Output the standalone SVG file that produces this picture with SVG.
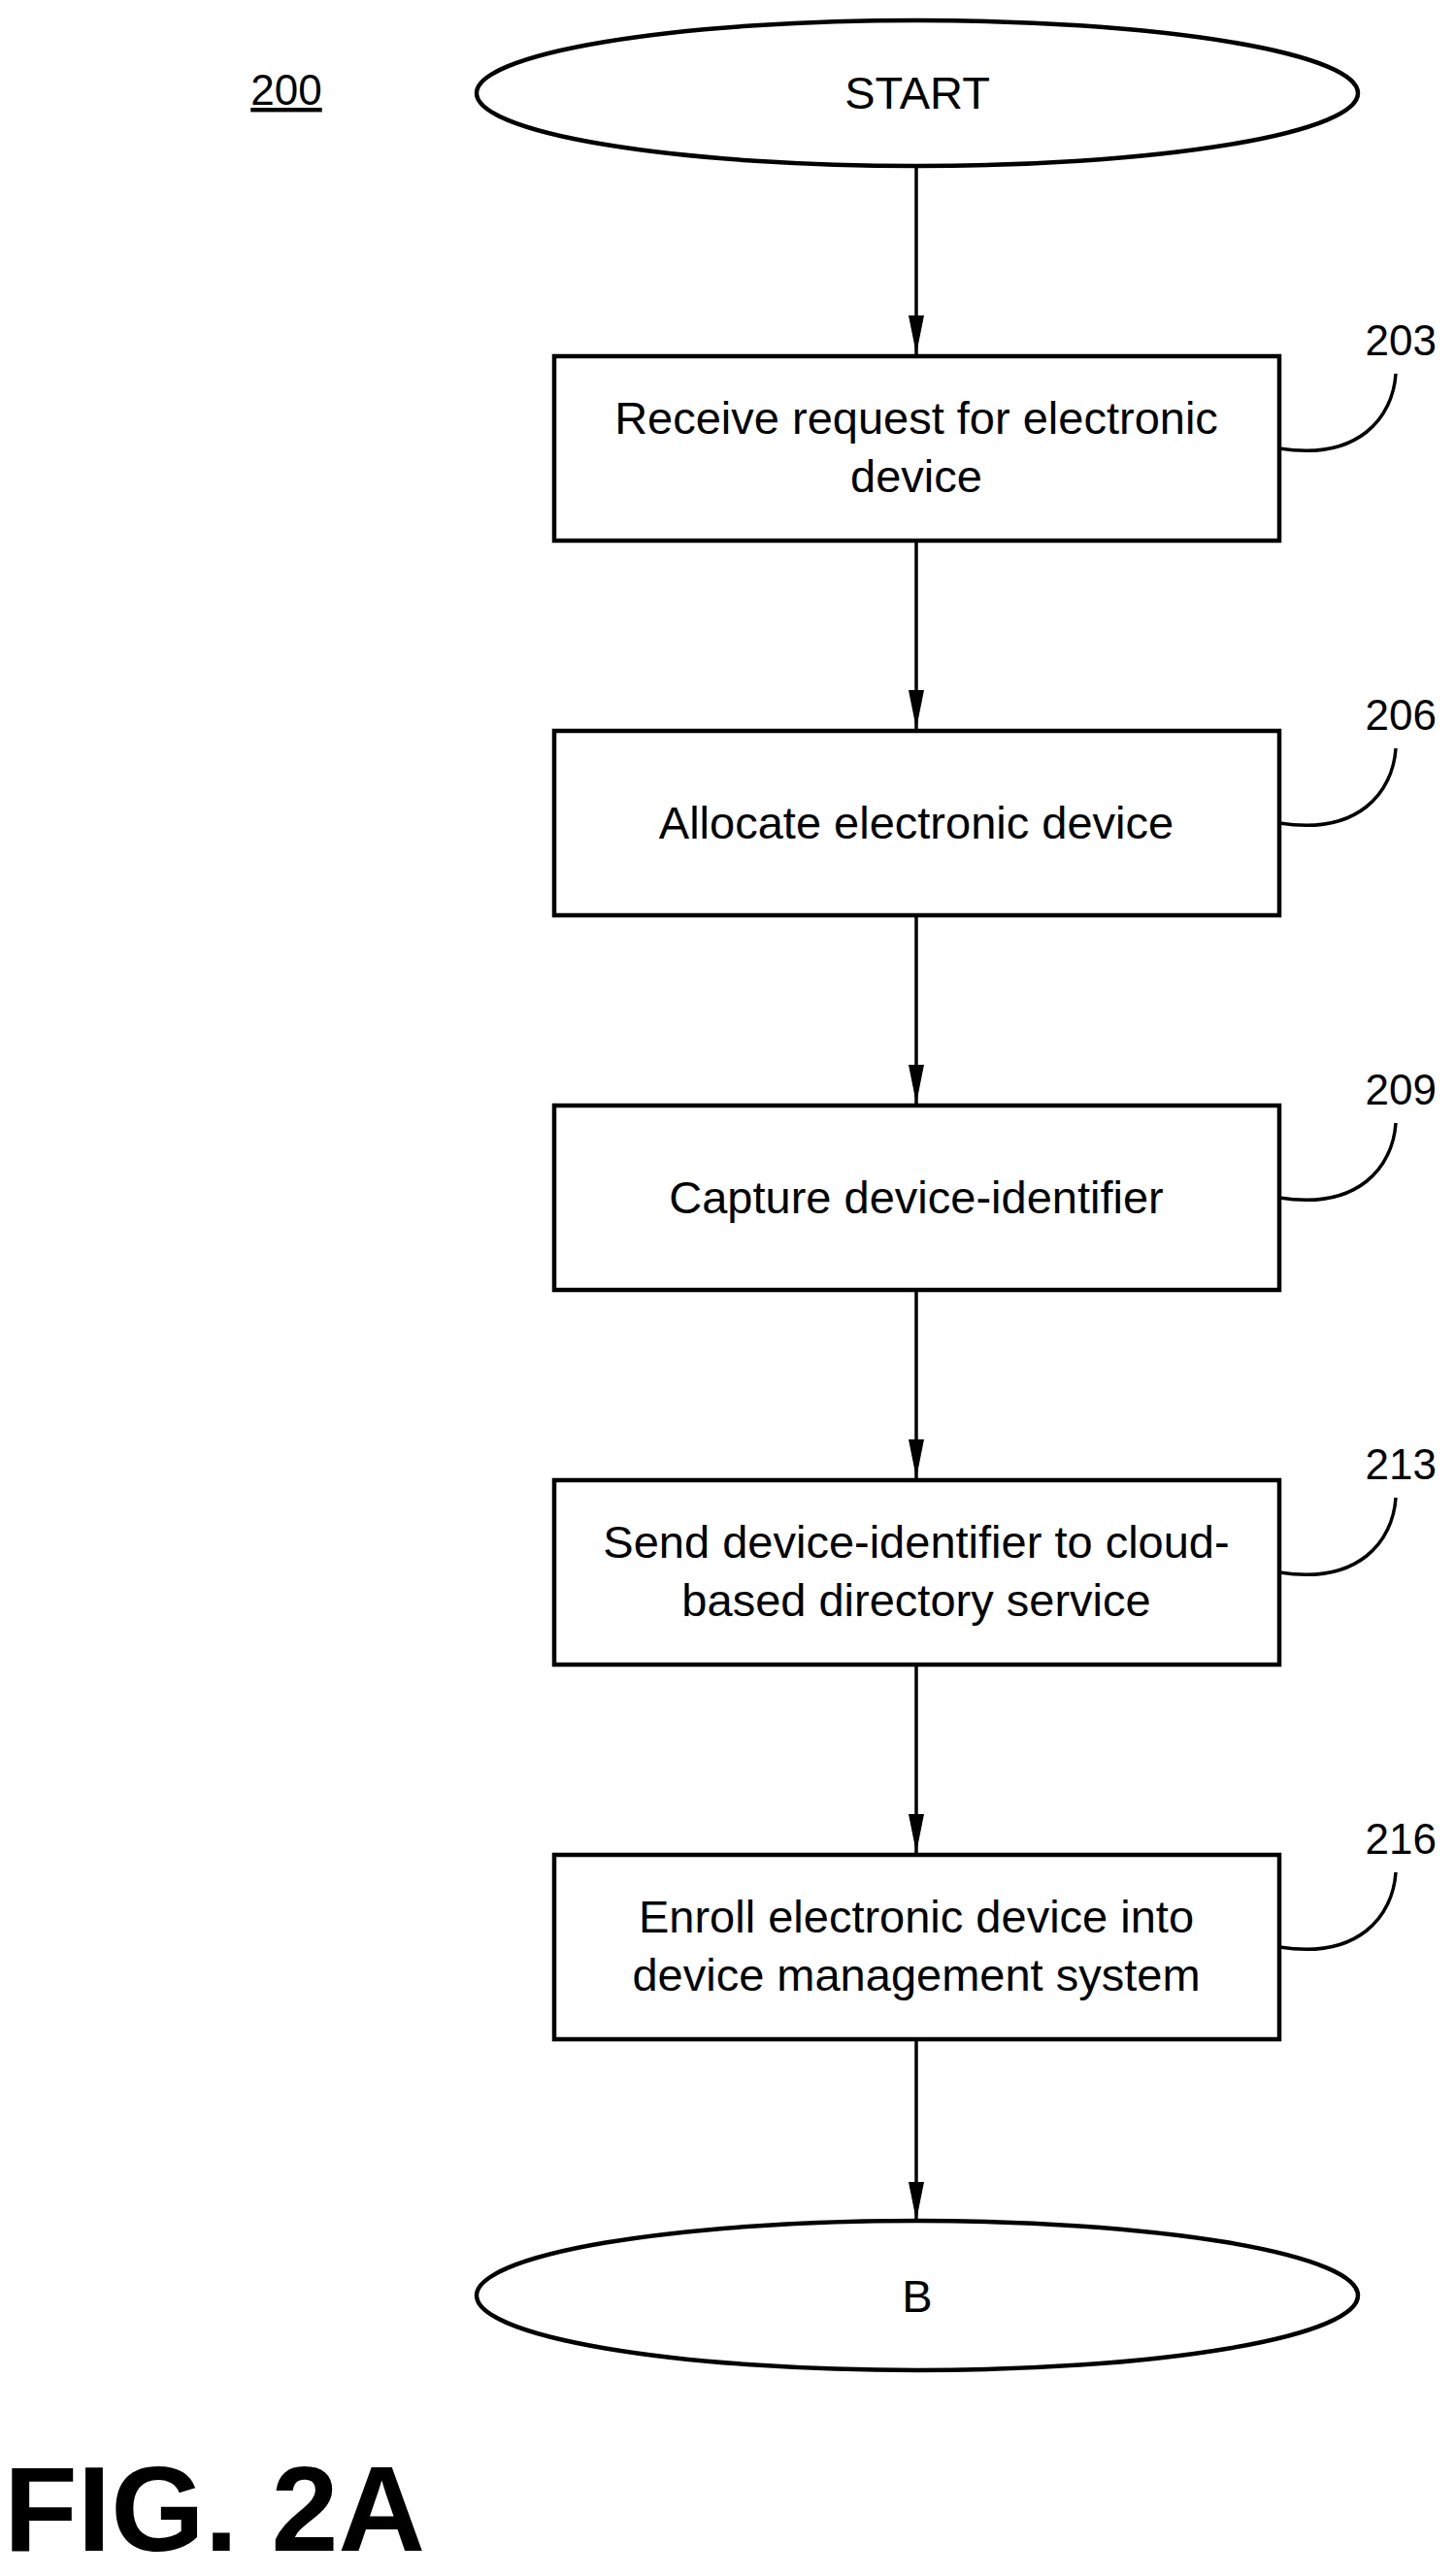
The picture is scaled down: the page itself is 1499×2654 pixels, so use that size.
<svg xmlns="http://www.w3.org/2000/svg" width="1499" height="2654" viewBox="0 0 1499 2654">
<style>
.s{fill:#fff;stroke:#000;stroke-width:4.5}
.t{font-family:"Liberation Sans",Arial,sans-serif;font-size:47px;text-anchor:middle;fill:#000}
.n{font-family:"Liberation Sans",Arial,sans-serif;font-size:44px;fill:#000;text-anchor:end}
.c{fill:none;stroke:#000;stroke-width:3.5}
</style>
<defs>
<marker id="ar" viewBox="0 0 40 16" refX="40" refY="8" markerWidth="40" markerHeight="16" orient="auto" markerUnits="userSpaceOnUse"><path d="M0,0 L40,8 L0,16Z"/></marker></defs>
<rect width="1499" height="2654" fill="#fff"/>
<text x="295" y="108" class="n" text-decoration="underline" style="text-anchor:middle">200</text>
<g id="connectors">
<line x1="944" y1="171" x2="944" y2="365" class="c" marker-end="url(#ar)"/>
<line x1="944" y1="558" x2="944" y2="751" class="c" marker-end="url(#ar)"/>
<line x1="944" y1="944" x2="944" y2="1137" class="c" marker-end="url(#ar)"/>
<line x1="944" y1="1330" x2="944" y2="1523" class="c" marker-end="url(#ar)"/>
<line x1="944" y1="1716" x2="944" y2="1909" class="c" marker-end="url(#ar)"/>
<line x1="944" y1="2102" x2="944" y2="2288" class="c" marker-end="url(#ar)"/>
</g>
<g id="start"><ellipse cx="945" cy="96" rx="454" ry="75" class="s"/><text x="945" y="112" class="t">START</text></g>
<g id="n203"><rect x="571" y="367" width="747" height="190" class="s"/><text x="944" y="447" class="t">Receive request for electronic</text><text x="944" y="507" class="t">device</text>
<path d="M1318,462 C1400,475 1435,430 1438,385" class="c"/><text x="1480" y="366" class="n">203</text></g>
<g id="n206"><rect x="571" y="753" width="747" height="190" class="s"/><text x="944" y="864" class="t">Allocate electronic device</text>
<path d="M1318,848 C1400,861 1435,816 1438,771" class="c"/><text x="1480" y="752" class="n">206</text></g>
<g id="n209"><rect x="571" y="1139" width="747" height="190" class="s"/><text x="944" y="1250" class="t">Capture device-identifier</text>
<path d="M1318,1234 C1400,1247 1435,1202 1438,1157" class="c"/><text x="1480" y="1138" class="n">209</text></g>
<g id="n213"><rect x="571" y="1525" width="747" height="190" class="s"/><text x="944" y="1605" class="t">Send device-identifier to cloud-</text><text x="944" y="1665" class="t">based directory service</text>
<path d="M1318,1620 C1400,1633 1435,1588 1438,1543" class="c"/><text x="1480" y="1524" class="n">213</text></g>
<g id="n216"><rect x="571" y="1911" width="747" height="190" class="s"/><text x="944" y="1991" class="t">Enroll electronic device into</text><text x="944" y="2051" class="t">device management system</text>
<path d="M1318,2006 C1400,2019 1435,1974 1438,1929" class="c"/><text x="1480" y="1910" class="n">216</text></g>
<g id="b"><ellipse cx="945" cy="2365" rx="454" ry="77" class="s"/><text x="945" y="2382" class="t">B</text></g>
<text x="4" y="2628" font-family="'Liberation Sans',Arial,sans-serif" font-weight="bold" font-size="124" fill="#000">FIG. 2A</text>
</svg>
